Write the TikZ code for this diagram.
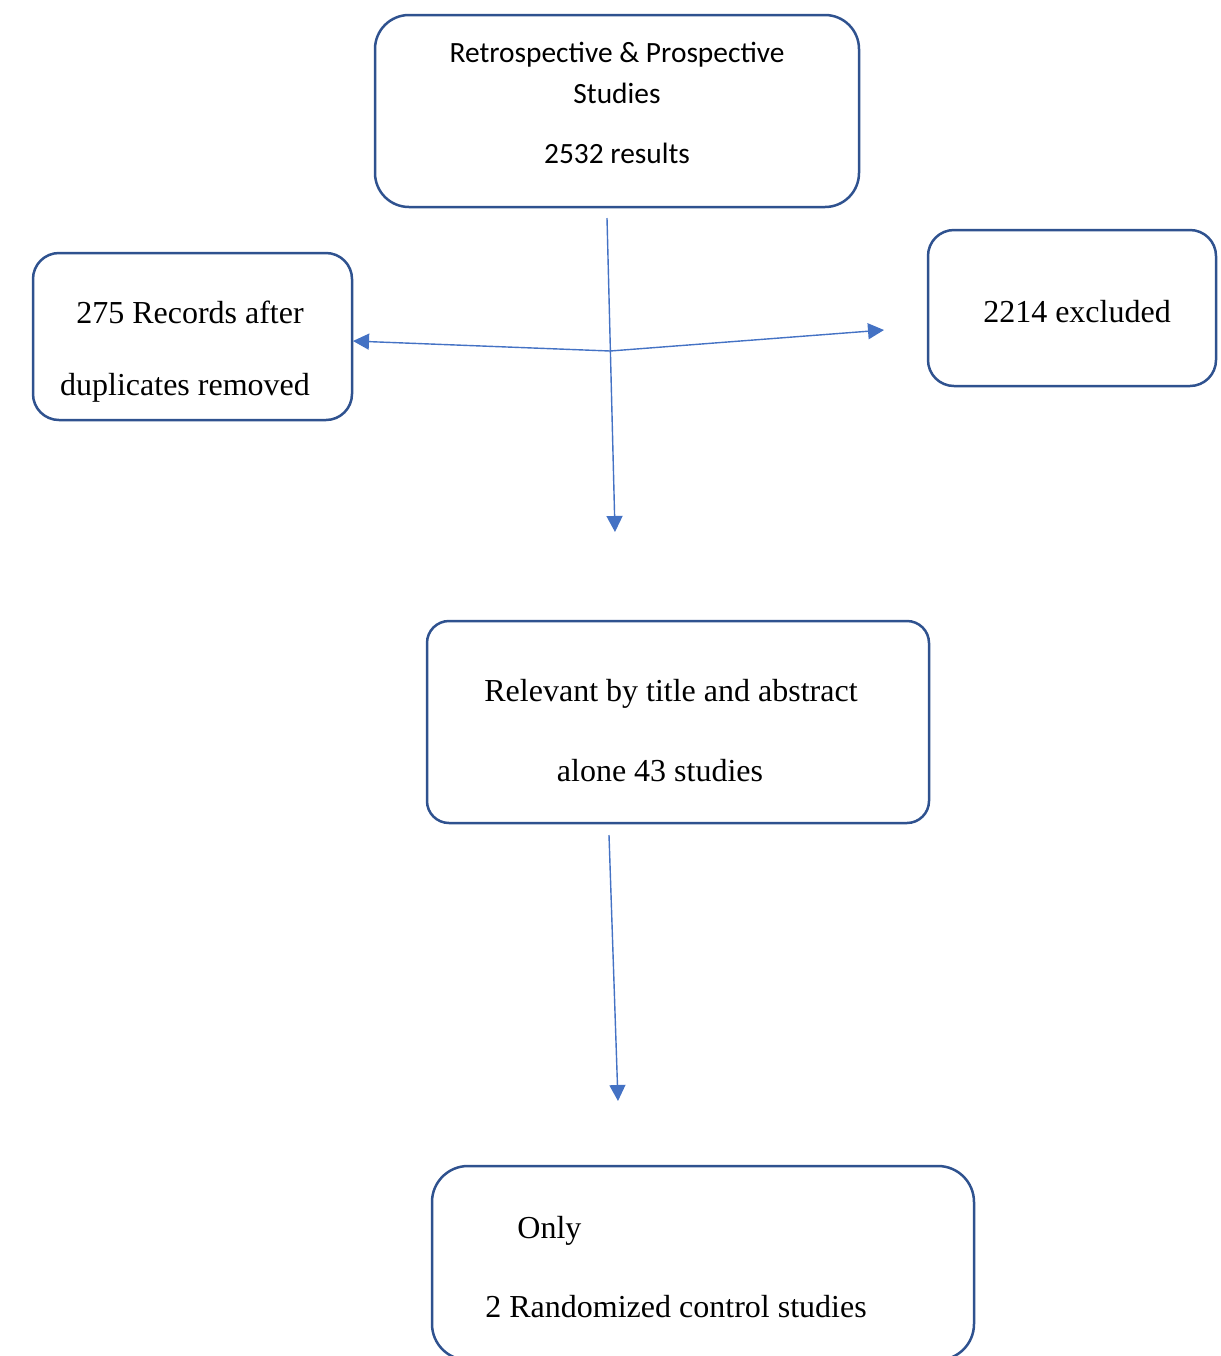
\documentclass[tikz,border=0pt]{standalone}
\usepackage{fontspec}
\setmainfont{Liberation Serif}
\newfontfamily\calfont{Carlito}
\usetikzlibrary{arrows.meta}
\definecolor{boxblue}{HTML}{2F528F}
\definecolor{arrowblue}{HTML}{4472C4}
\tikzset{
    box/.style={draw=boxblue,line width=1.25pt,inner sep=0pt},
    txt/.style={inner sep=0pt,font=\fontsize{16}{19}\selectfont},
    caltxt/.style={inner sep=0pt,font=\calfont\fontsize{14.7}{17}\selectfont},
    flow/.style={draw=arrowblue,line width=.7pt,-{Triangle[length=8pt,width=8pt]}}
}
\begin{document}
\begin{tikzpicture}[x=.5pt,y=-.5pt]
        \useasboundingbox (0,0) rectangle (1221,1356);
        % boxes
        \node (search) at (617,111) [box,rounded corners=17pt,minimum width=242pt,minimum height=96pt] {};
        \node (dup) at (192.5,336.5) [box,rounded corners=13pt,minimum width=159.5pt,minimum height=83.5pt] {};
        \node (excl) at (1072,308) [box,rounded corners=13pt,minimum width=144pt,minimum height=78pt] {};
        \node (relevant) at (678,722) [box,rounded corners=11pt,minimum width=251pt,minimum height=101pt] {};
        \node (rct) at (703,1263) [box,rounded corners=18pt,minimum width=271pt,minimum height=97pt] {};
        % texts
        \node (s1) at (617,55) [caltxt] {Retrospective \& Prospective};
        \node (s2) at (617,93) [caltxt] {Studies};
        \node (s3) at (617,153) [caltxt] {2532 results};
        \node (d1) at (190,312) [txt] {275 Records after};
        \node (d2) at (185,388) [txt] {duplicates removed};
        \node (e1) at (1077,312) [txt] {2214 excluded};
        \node (r1) at (671,694) [txt] {Relevant by title and abstract};
        \node (r2) at (660,771) [txt] {alone 43 studies};
        \node (o1) at (517,1231) [txt,anchor=west] {Only};
        \node (o2) at (485,1307) [txt,anchor=west] {2 Randomized control studies};
        % connectors
        \coordinate (out1) at (607,218);
        \coordinate (split) at (610,351);
        \coordinate (end1) at (615,532);
        \coordinate (endl) at (353,341);
        \coordinate (endr) at (884,330);
        \coordinate (out2) at (609,835);
        \coordinate (end2) at (618,1101);
        \draw [flow] (out1) -- (end1);
        \draw [flow] (split) -- (endl);
        \draw [flow] (split) -- (endr);
        \draw [flow] (out2) -- (end2);
\end{tikzpicture}
\end{document}
